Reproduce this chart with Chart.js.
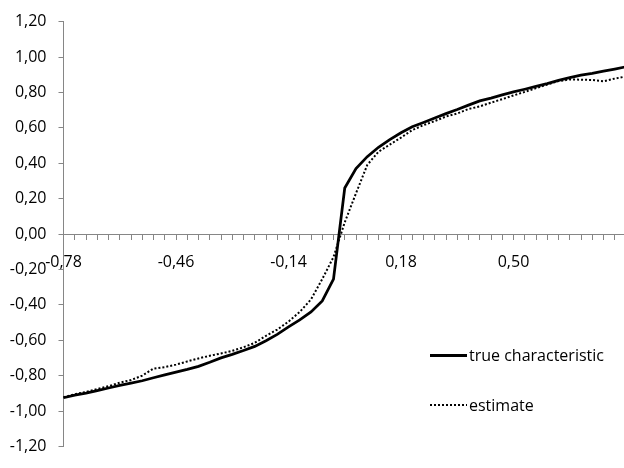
<!DOCTYPE html>
<html>
<head>
<meta charset="utf-8">
<script src="https://cdn.jsdelivr.net/npm/chart.js@4"></script>
<style>
  html, body { margin: 0; padding: 0; background: #fff; overflow: hidden; }
  #wrap { position: relative; width: 624px; height: 468px; overflow: hidden; }
  #chart { position: absolute; left: 0; top: 0; }
  .item { position: absolute; left: 430px; height: 20px; line-height: 20px; display: flex; align-items: center;
          white-space: nowrap; font: 16px "Open Sans", sans-serif; color: #000; }
  .sample { width: 37px; margin-right: 2px; }
</style>
</head>
<body>
<div id="wrap">
  <canvas id="chart" width="640" height="468"></canvas>
</div>
<script>
const categories = [
    -0.78, -0.748, -0.716, -0.684, -0.652, -0.62, -0.588, -0.556, -0.524, -0.492,
    -0.46, -0.428, -0.396, -0.364, -0.332, -0.3, -0.268, -0.236, -0.204, -0.172,
    -0.14, -0.108, -0.076, -0.044, -0.012, 0.02, 0.052, 0.084, 0.116, 0.148,
    0.18, 0.212, 0.244, 0.276, 0.308, 0.34, 0.372, 0.404, 0.436, 0.468,
    0.5, 0.532, 0.564, 0.596, 0.628, 0.66, 0.692, 0.724, 0.756, 0.788, 0.82
];

const trueValues = [
    -0.925, -0.91, -0.899, -0.885, -0.87, -0.855, -0.842, -0.829, -0.812, -0.796,
    -0.78, -0.765, -0.748, -0.725, -0.70, -0.68, -0.658, -0.635, -0.603, -0.567,
    -0.525, -0.485, -0.44, -0.378, -0.255, 0.26, 0.37, 0.437, 0.49, 0.533,
    0.572, 0.606, 0.63, 0.655, 0.68, 0.703, 0.728, 0.752, 0.768, 0.786,
    0.803, 0.818, 0.834, 0.85, 0.868, 0.883, 0.898, 0.908, 0.92, 0.932, 0.945
];

const estimateValues = [
    -0.922, -0.905, -0.892, -0.876, -0.86, -0.84, -0.825, -0.80, -0.76, -0.752,
    -0.738, -0.72, -0.703, -0.688, -0.675, -0.66, -0.64, -0.615, -0.575, -0.54,
    -0.495, -0.44, -0.37, -0.255, -0.13, 0.066, 0.23, 0.39, 0.465, 0.505,
    0.545, 0.587, 0.615, 0.638, 0.664, 0.681, 0.706, 0.721, 0.742, 0.762,
    0.783, 0.803, 0.824, 0.845, 0.864, 0.873, 0.872, 0.87, 0.863, 0.878, 0.89
];

const seriesNames = ['true characteristic', 'estimate'];

const yMin = -1.2;
const yMax = 1.2;
const yStep = 0.2;
const labelEvery = 10;
const lastLabel = 40; // the 0,82 label falls off the cropped edge

const axisGrey = '#868686';
const font = { family: 'Open Sans', size: 16 };

// excel style decimal comma
function fmt(v) {
    if (Math.abs(v) < 1e-9) v = 0;
    return v.toFixed(2).replace('.', ',');
}

const xLabels = categories.map(fmt);

const ctx = document.getElementById('chart').getContext('2d');
const chart = new Chart(ctx, {
    type: 'line',
    data: {
        labels: xLabels,
        datasets: [
            { label: seriesNames[0], data: trueValues, borderColor: '#000', borderWidth: 2.75,
              pointRadius: 0, tension: 0 },
            { label: seriesNames[1], data: estimateValues, borderColor: '#000', borderWidth: 2,
              borderDash: [2, 2], pointRadius: 0, tension: 0 }
        ]
    },
    options: {
        responsive: false,
        animation: false,
        layout: { padding: { left: 0, top: 13.3, right: 11.3, bottom: 14.7 } },
        plugins: { legend: { display: false }, tooltip: { enabled: false } },
        scales: {
            x: {
                position: { y: 0 },
                offset: false,
                grid: { drawOnChartArea: false, tickLength: 5, color: axisGrey, offset: false },
                border: { color: axisGrey },
                ticks: {
                    autoSkip: false, maxRotation: 0, padding: 14, color: '#000', font,
                    callback: (v, i) => (i % labelEvery === 0 && i <= lastLabel) ? xLabels[i] : ''
                }
            },
            y: {
                min: yMin,
                max: yMax,
                afterFit: scale => { scale.width = 63.5; },
                grid: { drawOnChartArea: false, tickLength: 5, color: axisGrey },
                border: { color: axisGrey },
                ticks: { stepSize: yStep, padding: 12, color: '#000', font, callback: v => fmt(v) }
            }
        }
    }
});

// legend sits inside the plot like the excel one
function addLegendItem(name, top, style) {
    const item = document.createElement('div');
    item.className = 'item';
    item.style.top = top + 'px';
    const sample = document.createElement('span');
    sample.className = 'sample';
    Object.assign(sample.style, style);
    item.appendChild(sample);
    item.appendChild(document.createTextNode(name));
    document.getElementById('wrap').appendChild(item);
}

addLegendItem(seriesNames[0], 345, { height: '3px', background: '#000' });
addLegendItem(seriesNames[1], 395, { height: '2px',
    background: 'repeating-linear-gradient(to right, #000 0 2px, transparent 2px 4px)' });
</script>
</body>
</html>
